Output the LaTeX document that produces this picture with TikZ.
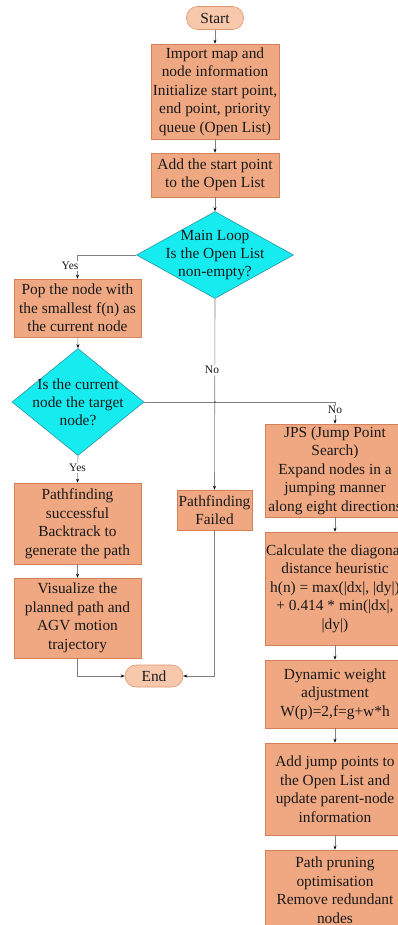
\documentclass[tikz,border=0pt]{standalone}
\usepackage{fontspec}
\setmainfont{Liberation Serif}
\usetikzlibrary{shapes.geometric,arrows.meta}
\definecolor{boxfill}{RGB}{240,168,130}
\definecolor{boxline}{RGB}{212,128,88}
\definecolor{termfill}{RGB}{247,200,172}
\definecolor{termline}{RGB}{222,150,110}
\definecolor{decfill}{RGB}{22,236,240}
\definecolor{decline}{RGB}{40,150,160}
\definecolor{conn}{RGB}{128,128,128}
\definecolor{txt}{RGB}{25,25,25}
\begin{document}
\begin{tikzpicture}[x=1pt,y=-1pt,
  every node/.style={text=txt},
  procbox/.style={draw=boxline,fill=boxfill,line width=0.6pt,align=center,inner sep=0pt,
    font=\fontsize{15.4}{18.5}\selectfont},
  termbox/.style={draw=termline,fill=termfill,line width=0.6pt,rounded corners=11pt,align=center,inner sep=0pt,
    font=\fontsize{15.4}{18.5}\selectfont},
  decbox/.style={diamond,draw=decline,fill=decfill,line width=0.6pt,inner sep=0pt},
  dectext/.style={align=center,inner sep=0pt,font=\fontsize{15.4}{18}\selectfont},
  lab/.style={fill=white,inner sep=1pt,font=\fontsize{11.5}{13}\selectfont},
  flow/.style={draw=conn,line width=0.6pt},
  arr/.style={flow,-{Stealth[length=4pt,width=3pt,black]}}
]
\clip (0,0) rectangle (398,925);
\useasboundingbox (0,0) rectangle (398,925);
\fill[white] (0,0) rectangle (398,925);

% nodes
\node[termbox,minimum width=57pt,minimum height=23pt] (start) at (215,18) {Start};
\node[procbox,minimum width=128pt,minimum height=95pt] (b1) at (215,91.5)
  {Import map and\\node information\\Initialize start point,\\end point, priority\\queue (Open List)};
\node[procbox,minimum width=128pt,minimum height=44pt] (b2) at (215,175)
  {Add the start point\\to the Open List};
\node[decbox,minimum width=157pt,minimum height=87pt] (d1) at (215,255) {};
\node[dectext] (d1t) at (215,255) {Main Loop\\Is the Open List\\non-empty?};
\node[procbox,minimum width=127pt,minimum height=58pt] (b3) at (77.5,308)
  {Pop the node with\\the smallest f(n) as\\the current node};
\node[decbox,minimum width=132pt,minimum height=107pt] (d2) at (78,402) {};
\node[dectext] (d2t) at (78,402) {Is the current\\node the target\\node?};
\node[procbox,minimum width=127pt,minimum height=81pt] (b4) at (77.5,523.5)
  {Pathfinding\\successful\\Backtrack to\\generate the path};
\node[procbox,minimum width=127pt,minimum height=80pt] (b5) at (77.5,618)
  {Visualize the\\planned path and\\AGV motion\\trajectory};
\node[termbox,minimum width=58pt,minimum height=22pt] (end) at (154,676) {End};
\node[procbox,minimum width=75pt,minimum height=40pt] (fail) at (214.5,510)
  {Pathfinding\\Failed};
\node[procbox,minimum width=140pt,minimum height=93pt] (jps) at (335,470.5)
  {JPS (Jump Point\\Search)\\Expand nodes in a\\jumping manner\\along eight directions};
\node[procbox,minimum width=140pt,minimum height=113pt] (calc) at (335,588.5)
  {Calculate the diagonal\\distance heuristic\\h(n) = max(|dx|, |dy|)\\+ 0.414 * min(|dx|,\\|dy|)};
\node[procbox,minimum width=140pt,minimum height=68pt] (dyn) at (335,694)
  {Dynamic weight\\adjustment\\W(p)=2,f=g+w*h};
\node[procbox,minimum width=140pt,minimum height=92pt] (add) at (335,789)
  {Add jump points to\\the Open List and\\update parent-node\\information};
\node[procbox,minimum width=140pt,minimum height=80pt] (prune) at (335,890)
  {Path pruning\\optimisation\\Remove redundant\\nodes};

% coordinates
\coordinate (yesc) at (77.5,255);
\coordinate (noc) at (335,402);
\coordinate (cross) at (215,402);
\coordinate (b5c) at (77.5,676);
\coordinate (failc) at (214.5,676);

% connectors
\draw[arr] (start) -- (b1);
\draw[arr] (b1) -- (b2);
\draw[arr] (b2) -- (d1.north);
\draw[arr] (d1.west) -- (yesc) -- (b3.north);
\node[lab] (yes1) at (70,266) {Yes};
\draw[arr] (b3) -- (d2.north);
\draw[arr] (d1.south) -- (fail.north);
\node[lab] (no1) at (212,370) {No};
\draw[arr] (d2.east) -- (noc) -- (jps.north);
\node[lab] (no2) at (335,410) {No};
\fill[black!70] (cross) circle (0.9pt);
\draw[arr] (d2.south) -- (b4.north);
\node[lab] (yes2) at (77.5,468) {Yes};
\draw[arr] (b4) -- (b5);
\draw[arr] (b5.south) -- (b5c) -- (end.west);
\draw[arr] (fail.south) -- (failc) -- (end.east);
\draw[arr] (jps) -- (calc);
\draw[arr] (calc) -- (dyn);
\draw[arr] (dyn) -- (add);
\draw[arr] (add) -- (prune);
\end{tikzpicture}
\end{document}
